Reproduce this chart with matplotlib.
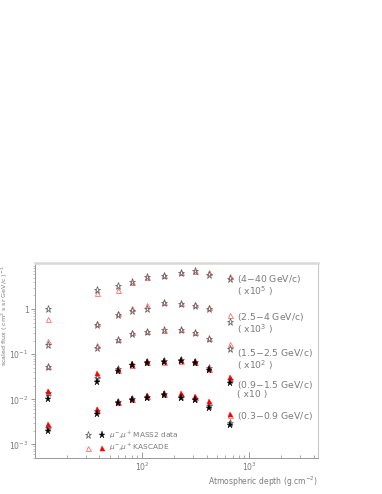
import matplotlib
matplotlib.use("Agg")
import matplotlib.pyplot as plt
from matplotlib.ticker import FixedLocator, FixedFormatter, NullFormatter
from matplotlib.legend_handler import HandlerTuple
from matplotlib.lines import Line2D

plt.rcParams['font.family'] = ['DejaVu Sans']
plt.rcParams['mathtext.fontset'] = 'dejavusans'

# ---- data (atmospheric depth, g/cm^2) ----
depth = [13.1, 37.6, 59.0, 80.2, 111.4, 162, 233, 313, 425, 668]

# 4-40 GeV/c (x1e5)
a_mass2_neg = [1.0, 2.6, 3.27, 3.9, 5.1, 5.47, 6.2, 6.9, 5.8, 4.65]
a_kasc_neg = [0.6, 2.24, 2.62, 4.0, 5.2, 5.7, 6.5, 7.1, 6.8, 5.5]
# 2.5-4 GeV/c (x1e3)
b_mass2_neg = [0.16, 0.455, 0.73, 0.90, 0.98, 1.38, 1.27, 1.17, 0.98, 0.52]
b_kasc_neg = [0.20, 0.49, 0.83, 1.07, 1.23, 1.41, 1.38, 1.27, 1.11, 0.73]
# 1.5-2.5 GeV/c (x1e2)
c_mass2_neg = [0.052, 0.136, 0.203, 0.28, 0.305, 0.35, 0.339, 0.295, 0.22, 0.132]
c_kasc_neg = [0.055, 0.162, 0.22, 0.305, 0.333, 0.35, 0.363, 0.31, 0.228, 0.168]
# 0.9-1.5 GeV/c (x10)
d_mass2_pos = [0.0100, 0.024, 0.043, 0.057, 0.064, 0.066, 0.070, 0.064, 0.0455, 0.0229]
d_mass2_neg = [0.0137, 0.030, 0.046, 0.059, 0.068, 0.069, 0.074, 0.068, 0.049, 0.0272]
d_kasc_pos = [0.0154, 0.038, 0.048, 0.062, 0.070, 0.072, 0.073, 0.070, 0.0496, 0.0306]
d_kasc_neg = [0.0145, 0.035, 0.045, 0.058, 0.066, 0.068, 0.070, 0.066, 0.047, 0.029]
# 0.3-0.9 GeV/c
e_mass2_pos = [0.00196, 0.0047, 0.0082, 0.0097, 0.0106, 0.0125, 0.0106, 0.0097, 0.0065, 0.00267]
e_mass2_neg = [0.00226, 0.0054, 0.0088, 0.0104, 0.0113, 0.0133, 0.0114, 0.0104, 0.0071, 0.0030]
e_kasc_pos = [0.0029, 0.0060, 0.0089, 0.0109, 0.0125, 0.0141, 0.0141, 0.0119, 0.0094, 0.00464]
e_kasc_neg = [0.0027, 0.0057, 0.0085, 0.0104, 0.0118, 0.0133, 0.0133, 0.0113, 0.0089, 0.0044]

range_labels = ["(4$-$40 GeV/c)\n( x10$^{5}$ )", "(2.5$-$4 GeV/c)\n( x10$^{3}$ )",
                "(1.5$-$2.5 GeV/c)\n( x10$^{2}$ )", "(0.9$-$1.5 GeV/c)\n( x10 )",
                "(0.3$-$0.9 GeV/c)"]
label_top = [6.39, 0.893, 0.147, 0.0289, 0.00585]

TXT = '#7a7a7a'
GREY_STAR = '#606060'
PINK = '#ff6060'
RED = '#ff0000'

fig = plt.figure(figsize=(3.82, 4.94), dpi=100)
ax = fig.add_axes([35/382, 1-458/494, (318-35)/382, (458-263)/494])
ax.set_xscale('log')
ax.set_yscale('log')
ax.set_xlim(10, 4400)
ax.set_ylim(5e-4, 10.5)

star_h = dict(ls='none', marker='*', ms=5.2, mfc='none', mec=GREY_STAR, mew=0.55)
star_f = dict(ls='none', marker='*', ms=5.2, mfc='black', mec='black', mew=0.3)
tri_h = dict(ls='none', marker='^', ms=3.6, mfc='none', mec=PINK, mew=0.55)
tri_f = dict(ls='none', marker='^', ms=3.6, mfc=RED, mec=RED, mew=0.3)

for k, m in [(a_kasc_neg, a_mass2_neg), (b_kasc_neg, b_mass2_neg), (c_kasc_neg, c_mass2_neg)]:
    ax.plot(depth, k, **tri_h)
    ax.plot(depth, m, **star_h)

for kn, mn, kp, mp in [(d_kasc_neg, d_mass2_neg, d_kasc_pos, d_mass2_pos),
                       (e_kasc_neg, e_mass2_neg, e_kasc_pos, e_mass2_pos)]:
    ax.plot(depth, kn, **tri_h)
    ax.plot(depth, mn, **star_h)
    ax.plot(depth, kp, **tri_f)
    ax.plot(depth, mp, **star_f)

# range labels
for lab, ty in zip(range_labels, label_top):
    ax.text(770, ty, lab, fontsize=6.7, color=TXT, ha='left', va='top', linespacing=0.95)

# legend
h1 = (Line2D([], [], **star_h), Line2D([], [], **star_f))
h2 = (Line2D([], [], **tri_h), Line2D([], [], **tri_f))
leg = ax.legend([h1, h2], ["$\\mu^{-}$,$\\mu^{+}$ MASS2 data", "$\\mu^{-}$,$\\mu^{+}$ KASCADE"],
                handler_map={tuple: HandlerTuple(ndivide=None, pad=1.2)},
                loc='lower left', bbox_to_anchor=(0.17, 0.01), frameon=False,
                fontsize=5.3, labelcolor=TXT, handlelength=2.4, handletextpad=0.7,
                labelspacing=0.15, borderaxespad=0)

# axes styling
ax.yaxis.set_major_locator(FixedLocator([1e-3, 1e-2, 1e-1, 1]))
ax.yaxis.set_major_formatter(FixedFormatter(["10$^{-3}$", "10$^{-2}$", "10$^{-1}$", "1"]))
ax.xaxis.set_major_locator(FixedLocator([10, 100, 1000]))
ax.xaxis.set_major_formatter(FixedFormatter(["", "10$^{2}$", "10$^{3}$"]))
ax.xaxis.set_minor_formatter(NullFormatter())
ax.yaxis.set_minor_formatter(NullFormatter())
ax.tick_params(axis='x', which='major', direction='in', length=4, width=0.6, color='#888888',
               labelsize=5.6, labelcolor=TXT, pad=2.2)
ax.tick_params(axis='x', which='minor', direction='in', length=2.2, width=0.5, color='#888888')
ax.tick_params(axis='y', which='major', direction='out', length=3, width=0.6, color='#888888',
               labelsize=5.6, labelcolor=TXT, pad=1.5)
ax.tick_params(axis='y', which='minor', direction='out', length=1.5, width=0.5, color='#aaaaaa')

for s in ['left', 'bottom']:
    ax.spines[s].set_color('#999999')
    ax.spines[s].set_linewidth(0.7)
ax.spines['top'].set_color('#d8d8d8')
ax.spines['top'].set_linewidth(1.8)
ax.spines['right'].set_color('#c8c8c8')
ax.spines['right'].set_linewidth(0.8)

ax.set_xlabel("Atmospheric depth (g.cm$^{-2}$)", fontsize=5.5, color=TXT, ha='right')
ax.xaxis.set_label_coords(1.0, -0.083)
ax.set_ylabel("scaled flux ( cm$^{2}$ s sr GeV/c )$^{-1}$", fontsize=4.6, color=TXT, ha='right')
ax.yaxis.set_label_coords(-0.087, 0.99)

fig.savefig("out.png", dpi=100)
